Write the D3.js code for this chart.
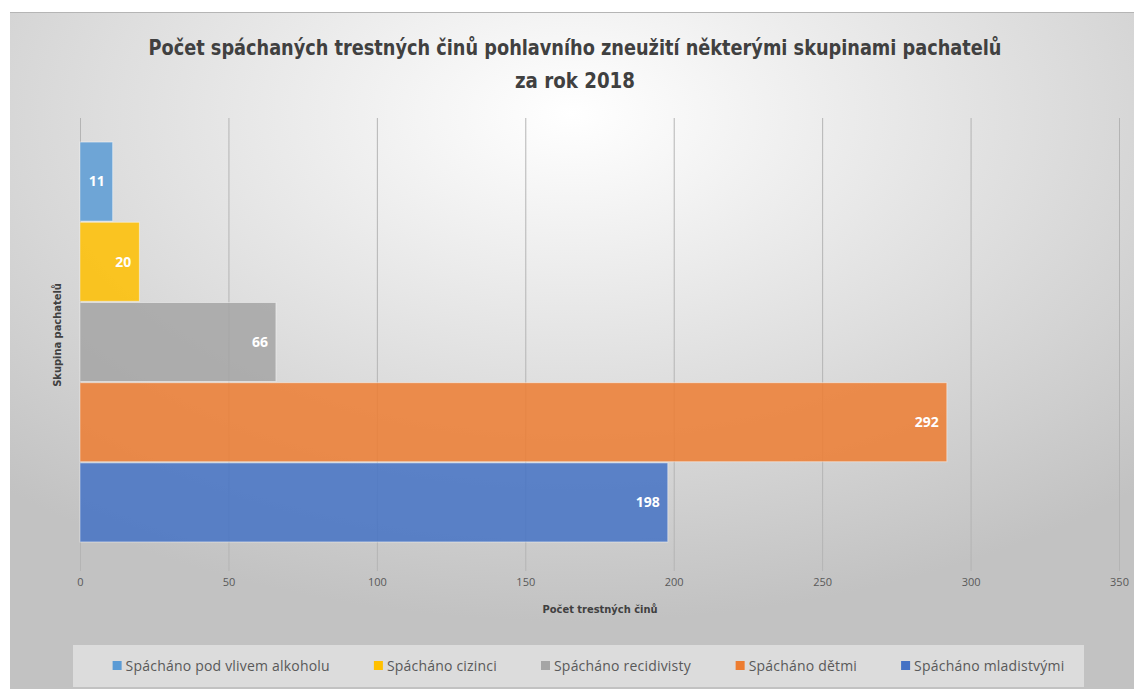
<!DOCTYPE html>
<html>
<head>
<meta charset="utf-8">
<script src="https://cdnjs.cloudflare.com/ajax/libs/d3/7.8.5/d3.min.js"></script>
<style>
  body { margin: 0; background: #fff; }
  svg { display: block; }
</style>
</head>
<body>
<div id="chart"></div>
<script>
// data
var series = ["Spácháno pod vlivem alkoholu", "Spácháno cizinci", "Spácháno recidivisty", "Spácháno dětmi", "Spácháno mladistvými"];
var values = [11, 20, 66, 292, 198];
var colors = ["#5B9BD5", "#FFC000", "#A5A5A5", "#ED7D31", "#4472C4"];
var xTicks = [0, 50, 100, 150, 200, 250, 300, 350];
var titleLines = ["Počet spáchaných trestných činů pohlavního zneužití některými skupinami pachatelů", "za rok 2018"];
var titleWidths = [853, 120];

var W = 1134, H = 689;
var plotTop = 118, plotBottom = 566, axisY = 571;
var narrow = "'Liberation Sans Narrow', 'DejaVu Sans Condensed', sans-serif";

var svg = d3.select("#chart").append("svg")
    .attr("width", W)
    .attr("height", H);

// background with soft radial shading
var defs = svg.append("defs");
var grad = defs.append("radialGradient")
    .attr("id", "bg")
    .attr("cx", "50%").attr("cy", "15%").attr("r", "75%")
    .attr("gradientUnits", "objectBoundingBox");
grad.append("stop").attr("offset", "0%").attr("stop-color", "#ffffff");
grad.append("stop").attr("offset", "55%").attr("stop-color", "#dedede");
grad.append("stop").attr("offset", "100%").attr("stop-color", "#c2c2c2");

svg.append("rect")
    .attr("x", 10).attr("y", 12)
    .attr("width", W - 10).attr("height", H - 12)
    .attr("fill", "url(#bg)");
svg.append("line")
    .attr("x1", 10).attr("x2", W)
    .attr("y1", 12.5).attr("y2", 12.5)
    .attr("stroke", "#b5b5b5");

// scales
var x = d3.scaleLinear().domain([0, 350]).range([80, 1119]);
var y = d3.scaleBand().domain(series).range([plotTop, plotBottom])
    .paddingInner(0.015).paddingOuter(0.3);

// gridlines + tick labels
var xAxis = d3.axisBottom(x).tickValues(xTicks)
    .tickSize(-(axisY - plotTop)).tickPadding(7);
var gx = svg.append("g")
    .attr("transform", "translate(0," + axisY + ")")
    .call(xAxis);
gx.select(".domain").remove();
gx.selectAll(".tick line").attr("stroke", "#b4b4b4");
gx.selectAll(".tick text")
    .attr("fill", "#595959")
    .style("font-family", "'Open Sans', sans-serif")
    .style("font-size", "11px");

// bars
svg.selectAll(".bar")
    .data(values)
    .enter()
    .append("rect")
    .attr("class", "bar")
    .attr("x", x(0))
    .attr("y", function(d, i) { return y(series[i]); })
    .attr("width", function(d) { return x(d) - x(0); })
    .attr("height", y.bandwidth())
    .attr("fill", function(d, i) { return colors[i]; })
    .attr("fill-opacity", 0.85)
    .attr("stroke", "#ffffff")
    .attr("stroke-opacity", 0.45);

// value labels
svg.selectAll(".val")
    .data(values)
    .enter()
    .append("text")
    .attr("class", "val")
    .attr("x", function(d) { return x(d) - 8; })
    .attr("y", function(d, i) { return y(series[i]) + y.bandwidth() / 2; })
    .attr("dy", "0.35em")
    .attr("text-anchor", "end")
    .attr("fill", "#ffffff")
    .style("font-family", "'Open Sans', sans-serif")
    .style("font-weight", "bold")
    .style("font-size", "14px")
    .text(function(d) { return d; });

// title (squeezed to the condensed look of the original)
svg.selectAll(".title")
    .data(titleLines)
    .enter()
    .append("text")
    .attr("class", "title")
    .attr("x", 575)
    .attr("y", function(d, i) { return 55 + i * 33; })
    .attr("text-anchor", "middle")
    .attr("textLength", function(d, i) { return titleWidths[i]; })
    .attr("lengthAdjust", "spacingAndGlyphs")
    .attr("fill", "#404040")
    .style("font-family", narrow)
    .style("font-weight", "bold")
    .style("font-size", "22px")
    .text(function(d) { return d; });

// axis titles
svg.append("text")
    .attr("x", 600).attr("y", 613)
    .attr("text-anchor", "middle")
    .attr("fill", "#404040")
    .style("font-family", narrow)
    .style("font-weight", "bold")
    .style("font-size", "11px")
    .text("Počet trestných činů");

svg.append("text")
    .attr("transform", "translate(61,335) rotate(-90)")
    .attr("text-anchor", "middle")
    .attr("fill", "#404040")
    .style("font-family", narrow)
    .style("font-weight", "bold")
    .style("font-size", "11px")
    .text("Skupina pachatelů");

// legend
var legBox = { x: 73, y: 645, w: 1011, h: 42 };
svg.append("rect")
    .attr("x", legBox.x).attr("y", legBox.y)
    .attr("width", legBox.w).attr("height", legBox.h)
    .attr("fill", "#f2f2f2").attr("fill-opacity", 0.55);

var legend = svg.append("g");
var items = legend.selectAll(".leg")
    .data(series)
    .enter()
    .append("g")
    .attr("class", "leg");
items.append("rect")
    .attr("width", 9).attr("height", 9)
    .attr("y", -5)
    .attr("fill", function(d, i) { return colors[i]; });
items.append("text")
    .attr("x", 13)
    .attr("dy", "0.35em")
    .attr("fill", "#595959")
    .style("font-family", "'Open Sans', sans-serif")
    .style("font-size", "14px")
    .style("letter-spacing", "0.2px")
    .text(function(d) { return d; });

var gap = 44, pos = 0, offs = [];
items.each(function() {
  offs.push(pos);
  pos += this.getBBox().width + gap;
});
var total = pos - gap;
// original legend sits a little right of centre
var startX = legBox.x + (legBox.w - total) / 2 + 10;
items.attr("transform", function(d, i) {
  return "translate(" + (startX + offs[i]) + "," + (legBox.y + legBox.h / 2) + ")";
});
</script>
</body>
</html>
